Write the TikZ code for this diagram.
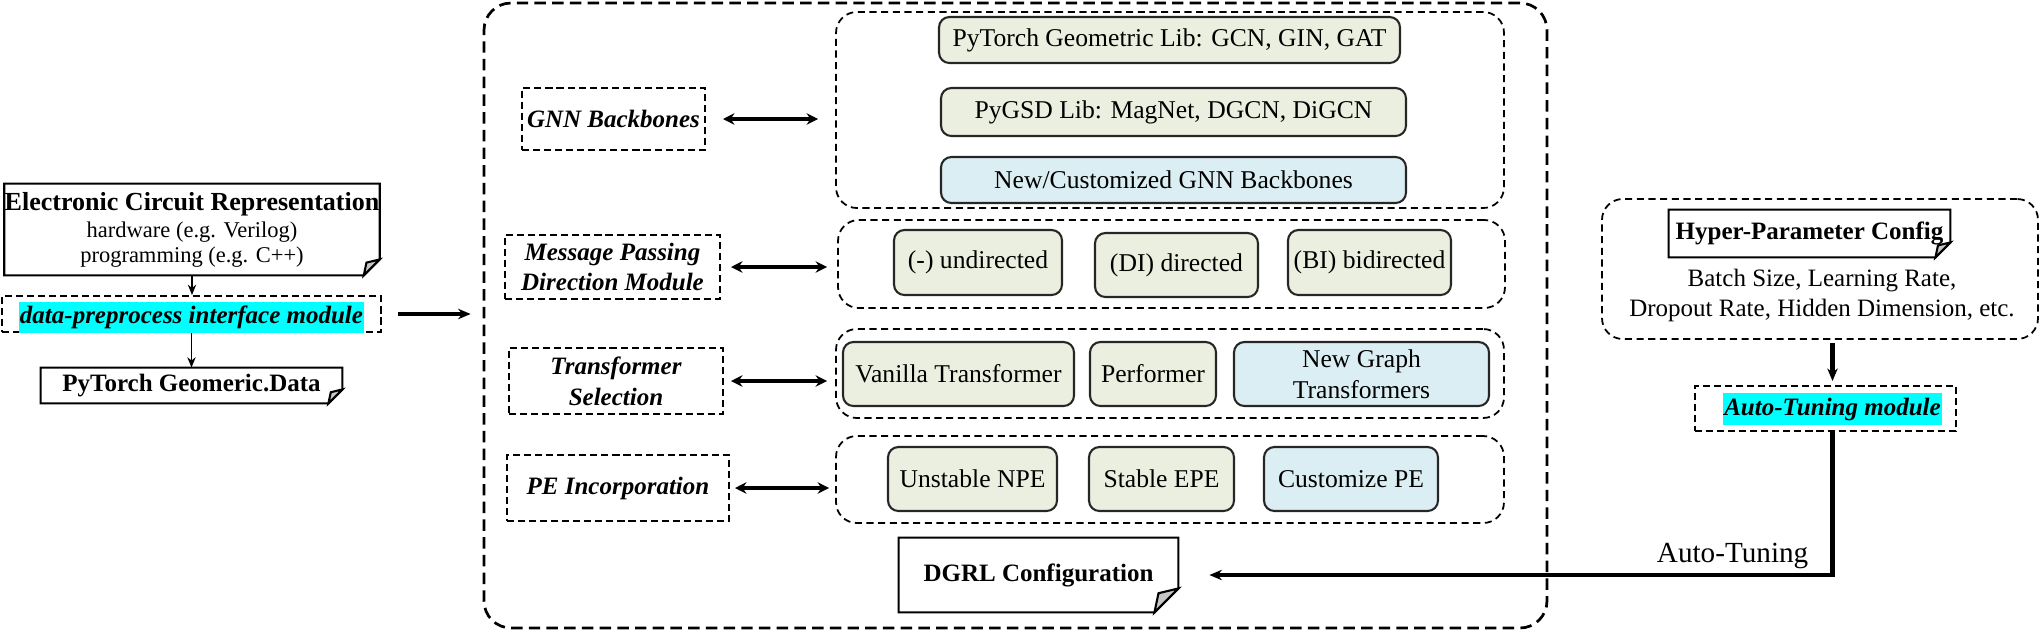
\documentclass[tikz,border=0pt]{standalone}
\usepackage{fontspec}
\setmainfont{Liberation Serif}
\usetikzlibrary{arrows.meta,positioning}
\definecolor{LibGreen}{HTML}{EBEFDF}
\definecolor{NewBlue}{HTML}{DBEEF3}
\definecolor{HiCyan}{HTML}{00FFFF}
\def\pxu{0.48pt}
\tikzset{
  libbox/.style={draw=black!85, line width=1pt, rounded corners=5pt, fill=LibGreen,
    font=\fontsize{12.3}{15}\selectfont, align=center, inner sep=0pt},
  newbox/.style={libbox, fill=NewBlue},
  groupbox/.style={draw, line width=0.85pt, dash pattern=on 3.4pt off 2.2pt, rounded corners=10pt, inner sep=0pt},
  labbox/.style={draw, line width=0.95pt, dash pattern=on 3.4pt off 1.9pt,
    font=\bfseries\itshape\fontsize{12}{14}\selectfont, align=center, inner sep=0pt},
  hilite/.style={fill=HiCyan, inner sep=0pt, font=\bfseries\itshape\fontsize{12}{14}\selectfont},
  notetext/.style={font=\bfseries\fontsize{12}{14}\selectfont, align=center, inner sep=0pt},
  noteline/.style={line width=1pt},
  twoway/.style={line width=1.8pt, {Stealth[length=5.5pt,width=5.5pt]}-{Stealth[length=5.5pt,width=5.5pt]}},
  oneway/.style={-{Stealth[length=5pt,width=4pt]}, line width=0.6pt},
  bigway/.style={-{Stealth[length=6pt,width=5pt]}, line width=1.9pt},
}
% note with a folded corner, #2 = fold size
\newcommand{\dogear}[2]{%
  \draw[noteline] (#1.north west) -- (#1.north east) -- ([shift={(0,-#2)}]#1.south east)
    -- ([shift={(-#2,0)}]#1.south east) -- (#1.south west) -- cycle;
  \filldraw[noteline, fill=gray!45] ([shift={(0,-#2)}]#1.south east) -- ([shift={(-#2,0)}]#1.south east)
    -- ([shift={(-0.83*#2,-0.8*#2)}]#1.south east) -- cycle;
}
\begin{document}
\begin{tikzpicture}[x=0.48pt, y=-0.48pt]
  \useasboundingbox (0,0) rectangle (2042,630);

  % input side
  \node[minimum width=374*\pxu, minimum height=91*\pxu, align=center, inner sep=0pt,
        font=\fontsize{10.8}{12}\selectfont] (circ) at (192,229.5)
        {{\bfseries\fontsize{12.5}{15}\selectfont Electronic Circuit Representation}\\[1pt]
         hardware (e.g. Verilog)\\programming (e.g. C++)};
  \dogear{circ}{16}
  \node[labbox, minimum width=379*\pxu, minimum height=36*\pxu] (prep) at (191.5,314) {};
  \node[hilite, minimum width=345*\pxu, minimum height=31*\pxu] (prephl) at (191.5,317.5)
        {data-preprocess interface module};
  \node[notetext, minimum width=301*\pxu, minimum height=35*\pxu] (pyg) at (191.5,385.5)
        {PyTorch Geomeric.Data};
  \dogear{pyg}{14}
  \draw[oneway] (circ.south) -- (circ.south |- prep.north);
  \draw[oneway] (prep.south |- prephl.south) -- (prep.south |- pyg.north);

  % DGRL container
  \node[draw, line width=1.3pt, dash pattern=on 5.5pt off 3pt, rounded corners=13pt,
        minimum width=1063*\pxu, minimum height=625*\pxu] (main) at (1015.5,315.5) {};
  \draw[bigway, shorten <=16*\pxu, shorten >=12*\pxu] (prep.east) -- (prep.east -| main.west);

  % GNN backbones
  \node[groupbox, minimum width=668*\pxu, minimum height=196*\pxu] (gnnbox) at (1170,110) {};
  \node[libbox, minimum width=461*\pxu, minimum height=46*\pxu] (pyglib) at (1169.5,40)
        {PyTorch Geometric Lib: GCN, GIN, GAT};
  \node[libbox, minimum width=465*\pxu, minimum height=48*\pxu] (pygsd) at (1173.5,112)
        {PyGSD Lib: MagNet, DGCN, DiGCN};
  \node[newbox, minimum width=465*\pxu, minimum height=46*\pxu] (newgnn) at (1173.5,180)
        {New/Customized GNN Backbones};
  \node[labbox, minimum width=183*\pxu, minimum height=62*\pxu] (gnnlab) at (613.5,119) {GNN Backbones};
  \draw[twoway, shorten <=17*\pxu, shorten >=17*\pxu] (gnnlab.east) -- (gnnlab.east -| gnnbox.west);

  % message passing direction
  \node[groupbox, minimum width=667*\pxu, minimum height=88*\pxu] (mpbox) at (1171.5,264) {};
  \node[libbox, minimum width=168*\pxu, minimum height=65*\pxu] (undir) at (978,262.5) {(-) undirected};
  \node[libbox, minimum width=163*\pxu, minimum height=64*\pxu] (dir) at (1176.5,265) {(DI) directed};
  \node[libbox, minimum width=163*\pxu, minimum height=65*\pxu] (bidir) at (1369.5,262.5) {(BI) bidirected};
  \node[labbox, minimum width=215*\pxu, minimum height=64*\pxu] (mplab) at (612.5,267)
        {Message Passing\\Direction Module};
  \draw[twoway, shorten <=10*\pxu, shorten >=10*\pxu] (mplab.east) -- (mplab.east -| mpbox.west);

  % transformer selection
  \node[groupbox, minimum width=668*\pxu, minimum height=89*\pxu] (trbox) at (1170,373.5) {};
  \node[libbox, minimum width=231*\pxu, minimum height=64*\pxu] (vanilla) at (958.5,374) {Vanilla Transformer};
  \node[libbox, minimum width=126*\pxu, minimum height=64*\pxu] (perf) at (1153,374) {Performer};
  \node[newbox, minimum width=255*\pxu, minimum height=64*\pxu] (newtr) at (1361.5,374)
        {New Graph\\Transformers};
  \node[labbox, minimum width=214*\pxu, minimum height=66*\pxu, font=\bfseries\itshape\fontsize{12}{15}\selectfont]
        (trlab) at (616,381) {Transformer\\Selection};
  \draw[twoway, shorten <=7*\pxu, shorten >=8*\pxu] (trlab.east) -- (trlab.east -| trbox.west);

  % PE incorporation
  \node[groupbox, minimum width=668*\pxu, minimum height=87*\pxu] (pebox) at (1170,479.5) {};
  \node[libbox, minimum width=169*\pxu, minimum height=64*\pxu] (unst) at (972.5,479) {Unstable NPE};
  \node[libbox, minimum width=145*\pxu, minimum height=64*\pxu] (stab) at (1161.5,479) {Stable EPE};
  \node[newbox, minimum width=174*\pxu, minimum height=64*\pxu] (cust) at (1351,479) {Customize PE};
  \node[labbox, minimum width=222*\pxu, minimum height=66*\pxu] (pelab) at (618,488) {PE Incorporation};
  \draw[twoway, shorten <=5*\pxu, shorten >=6*\pxu] (pelab.east) -- (pelab.east -| pebox.west);

  \node[notetext, minimum width=279*\pxu, minimum height=74*\pxu] (dgrl) at (1038.5,575) {DGRL Configuration};
  \dogear{dgrl}{24}

  % hyper-parameter side
  \node[groupbox, minimum width=436*\pxu, minimum height=140*\pxu] (hpouter) at (1820,269) {};
  \node[notetext, minimum width=281*\pxu, minimum height=47*\pxu] (hpcfg) at (1809.5,233.5)
        {Hyper-Parameter Config};
  \dogear{hpcfg}{15}
  \node[align=center, inner sep=0pt, font=\fontsize{12}{14.4}\selectfont] (hptext) at (1822,295)
        {Batch Size, Learning Rate,\\Dropout Rate, Hidden Dimension, etc.};
  \node[labbox, minimum width=261*\pxu, minimum height=45*\pxu] (atm) at (1825.5,408.5) {};
  \node[hilite, minimum width=219*\pxu, minimum height=32*\pxu] (atmhl) at (1832.5,409)
        {Auto-Tuning module};
  \draw[bigway, line width=2pt, shorten <=3*\pxu, shorten >=4*\pxu] (atmhl |- hpouter.south) -- (atmhl |- atm.north);
  \draw[bigway, line width=2pt, shorten >=31*\pxu] (atmhl |- atm.south) |- (dgrl.east)
        node[pos=0.5, anchor=south east, xshift=-18*\pxu, inner sep=2pt, font=\fontsize{14}{16}\selectfont] {Auto-Tuning};
\end{tikzpicture}
\end{document}
